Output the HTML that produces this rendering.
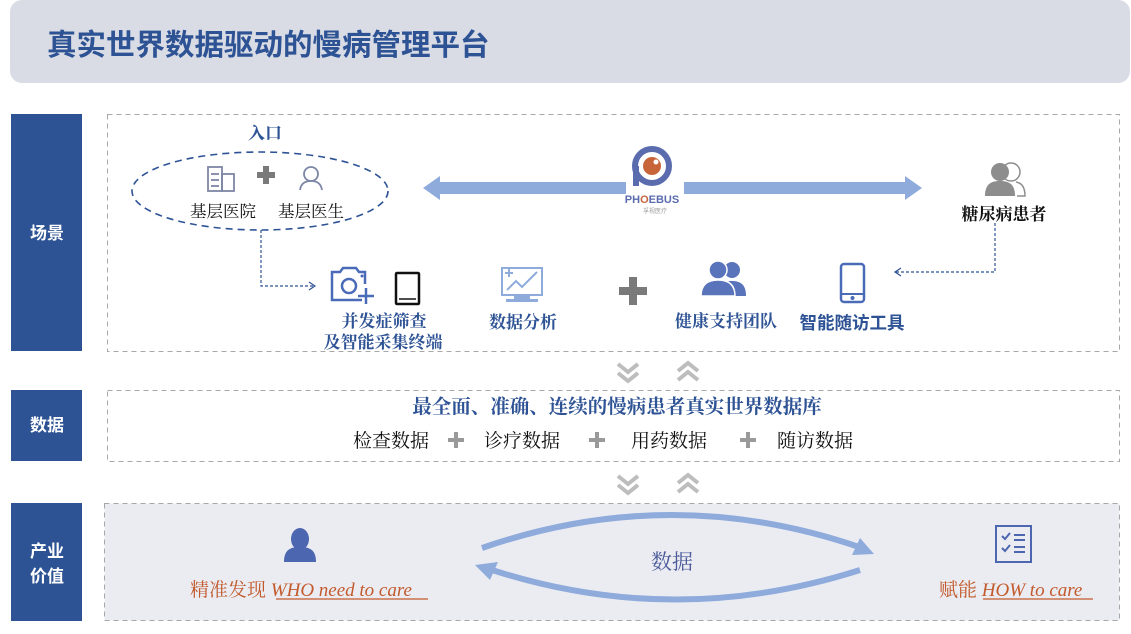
<!DOCTYPE html>
<html><head><meta charset="utf-8"><style>
html,body{margin:0;padding:0;background:#fff;}
svg{display:block;}
.s{font-family:"Liberation Serif","Noto Serif CJK SC",serif;}
.h{font-family:"Liberation Sans","Noto Sans CJK SC",sans-serif;}
</style></head><body>
<svg width="1131" height="634" viewBox="0 0 1131 634" xmlns="http://www.w3.org/2000/svg">
<defs>
<g id="dn"><polyline points="-10,-11 0,-3 10,-11" fill="none" stroke="#bdbdbd" stroke-width="4"/><polyline points="-10,-2 0,6 10,-2" fill="none" stroke="#bdbdbd" stroke-width="4"/></g>
<g id="up"><polyline points="-10,-1 0,-9 10,-1" fill="none" stroke="#bdbdbd" stroke-width="4"/><polyline points="-10,8 0,0 10,8" fill="none" stroke="#bdbdbd" stroke-width="4"/></g>
</defs>
<!-- header -->
<rect x="10" y="0" width="1120" height="83" rx="12" fill="#d9dce4"/>
<text x="47" y="55" class="h" font-size="29.5" font-weight="bold" fill="#2e5395">真实世界数据驱动的慢病管理平台</text>

<!-- left labels -->
<rect x="11" y="114" width="71" height="237" fill="#2d5395"/>
<text x="47" y="239" class="h" font-size="17" font-weight="bold" fill="#fff" text-anchor="middle">场景</text>
<rect x="11" y="390" width="71" height="71" fill="#2d5395"/>
<text x="47" y="431" class="h" font-size="17" font-weight="bold" fill="#fff" text-anchor="middle">数据</text>
<rect x="11" y="503" width="71" height="118" fill="#2d5395"/>
<text x="47" y="557" class="h" font-size="17" font-weight="bold" fill="#fff" text-anchor="middle">产业</text>
<text x="47" y="582" class="h" font-size="17" font-weight="bold" fill="#fff" text-anchor="middle">价值</text>

<!-- dashed boxes -->
<rect x="107.5" y="114.5" width="1012" height="237" fill="#fff" stroke="#a8a8a8" stroke-dasharray="5,4"/>
<rect x="107.5" y="390.5" width="1012" height="71" fill="#fff" stroke="#a8a8a8" stroke-dasharray="5,4"/>
<rect x="104.5" y="503.5" width="1015" height="117" fill="#ebecf2" stroke="#a8a8a8" stroke-dasharray="5,4"/>

<!-- scene -->
<text x="265" y="139" class="s" font-size="17" font-weight="bold" fill="#2e5395" text-anchor="middle">入口</text>
<ellipse cx="260" cy="191" rx="128" ry="39" fill="none" stroke="#2e5395" stroke-width="1.6" stroke-dasharray="7,5"/>
<g stroke="#7d86a6" stroke-width="1.8" fill="none"><rect x="208" y="167" width="14" height="24"/><rect x="222" y="174" width="12" height="17"/><line x1="211" y1="174" x2="219" y2="174"/><line x1="211" y1="180" x2="219" y2="180"/><line x1="211" y1="186" x2="219" y2="186"/></g>
<path d="M257 172h6v-6h6v6h6v6h-6v6h-6v-6h-6z" fill="#7a7a7a"/>
<g stroke="#7d86a6" stroke-width="1.8" fill="none"><circle cx="311" cy="174" r="7"/><path d="M300 190c1-7 6-9 11-9s10 2 11 9"/></g>
<text x="223" y="217" class="s" font-size="16.5" fill="#111" text-anchor="middle">基层医院</text>
<text x="311" y="217" class="s" font-size="16.5" fill="#111" text-anchor="middle">基层医生</text>
<polyline points="261,230 261,286 314,286" fill="none" stroke="#2e5395" stroke-width="1.2" stroke-dasharray="3,2"/>
<polyline points="309,282 315,286 309,290" fill="none" stroke="#2e5395" stroke-width="1.2"/>

<!-- big arrows -->
<rect x="436" y="182" width="190" height="12" fill="#8eabdc"/>
<polygon points="423,188 440,176 440,200" fill="#8eabdc"/>
<rect x="684" y="182" width="222" height="12" fill="#8eabdc"/>
<polygon points="922,188 905,176 905,200" fill="#8eabdc"/>
<!-- logo -->
<circle cx="652" cy="166" r="17" fill="none" stroke="#5a6cae" stroke-width="6"/>
<rect x="633" y="166" width="6" height="20" fill="#5a6cae"/>
<circle cx="652" cy="166" r="9" fill="#c8643a"/>
<circle cx="656" cy="162" r="2.5" fill="#fff"/>
<text x="652" y="203" class="h" font-size="11" font-weight="bold" fill="#5a6cae" text-anchor="middle">PH<tspan fill="#c8643a">O</tspan>EBUS</text>
<text x="655" y="213" class="h" font-size="6" fill="#999" text-anchor="middle">孚视医疗</text>
<!-- patient -->
<g fill="#8d8d8d"><circle cx="1011" cy="172" r="9" fill="#fff" stroke="#8d8d8d" stroke-width="1.5"/><circle cx="1000" cy="172" r="9"/><path d="M985 196c0-12 6-15 15-15s15 3 15 15z"/><path d="M1017 196h8c0-10-4-13-9-14" fill="none" stroke="#8d8d8d" stroke-width="1.5"/></g>
<text x="1004" y="220" class="s" font-size="17" font-weight="bold" fill="#111" text-anchor="middle">糖尿病患者</text>
<polyline points="995,223 995,272 896,272" fill="none" stroke="#2e5395" stroke-width="1.2" stroke-dasharray="3,2"/>
<polyline points="901,268 895,272 901,276" fill="none" stroke="#2e5395" stroke-width="1.2"/>

<!-- camera -->
<g stroke="#4a6bb8" stroke-width="2.5" fill="none"><path d="M362 300h-30v-28h8l3-4h13l3 4h6v12"/><circle cx="349" cy="286" r="7"/><path d="M366 288v16M358 296h16"/></g>
<circle cx="362" cy="276" r="1.5" fill="#4a6bb8"/>
<rect x="396" y="273" width="23" height="31" rx="1" fill="none" stroke="#111" stroke-width="2.5"/>
<line x1="399" y1="299" x2="416" y2="299" stroke="#111" stroke-width="1.5"/>
<text x="384" y="327" class="s" font-size="17" font-weight="bold" fill="#2e5395" text-anchor="middle">并发症筛查</text>
<text x="383" y="348" class="s" font-size="17" font-weight="bold" fill="#2e5395" text-anchor="middle">及智能采集终端</text>
<!-- monitor -->
<g stroke="#8eabdc" stroke-width="2" fill="none"><rect x="502" y="268" width="40" height="27"/><polyline points="507,290 516,281 522,287 537,272"/><path d="M509 269v8M505 273h8"/></g>
<rect x="514" y="296" width="16" height="3" fill="#8eabdc"/><rect x="506" y="299" width="32" height="3" fill="#8eabdc"/>
<text x="523" y="328" class="s" font-size="17" font-weight="bold" fill="#2e5395" text-anchor="middle">数据分析</text>
<path d="M619 287h10v-10h8v10h10v8h-10v10h-8v-10h-10z" fill="#7a7a7a"/>
<!-- team -->
<g fill="#5a74bc"><circle cx="732" cy="270" r="8"/><path d="M718 296c0-10 4-15 14-15s14 5 14 15z"/><circle cx="718" cy="270" r="9" stroke="#fff" stroke-width="1.5"/><path d="M701 296c0-11 6-16 17-16s17 5 17 16z" stroke="#fff" stroke-width="1.5"/></g>
<text x="726" y="327" class="s" font-size="17" font-weight="bold" fill="#2e5395" text-anchor="middle">健康支持团队</text>
<!-- phone -->
<rect x="841" y="264" width="23" height="38" rx="3" fill="none" stroke="#4a6bb8" stroke-width="2.5"/>
<line x1="841" y1="294" x2="864" y2="294" stroke="#4a6bb8" stroke-width="2"/>
<circle cx="852.5" cy="298" r="2" fill="#4a6bb8"/>
<text x="852" y="329" class="h" font-size="17.5" font-weight="bold" fill="#2e5395" text-anchor="middle">智能随访工具</text>

<!-- chevrons -->
<use href="#dn" x="628" y="375"/><use href="#up" x="688" y="372"/>
<use href="#dn" x="628" y="487"/><use href="#up" x="688" y="484"/>

<!-- data -->
<text x="617" y="413" class="s" font-size="19.5" font-weight="bold" fill="#2e5395" text-anchor="middle">最全面、准确、连续的慢病患者真实世界数据库</text>
<g class="s" font-size="19" fill="#111">
<text x="353" y="447">检查数据</text><text x="484" y="447">诊疗数据</text><text x="631" y="447">用药数据</text><text x="777" y="447">随访数据</text></g>
<g fill="#9a9a9a"><path d="M448 438h6v-6h4v6h6v4h-6v6h-4v-6h-6z"/><path d="M589 438h6v-6h4v6h6v4h-6v6h-4v-6h-6z"/><path d="M740 438h6v-6h4v6h6v4h-6v6h-4v-6h-6z"/></g>

<!-- industry -->
<g fill="#4d66b0"><ellipse cx="300" cy="539" rx="9" ry="11"/><path d="M284 562c0-12 6-15 16-15s16 3 16 15z"/></g>
<text x="190" y="596" class="s" font-size="19" fill="#c25a2c">精准发现 <tspan font-style="italic">WHO need to care</tspan></text>
<line x1="276" y1="599" x2="428" y2="599" stroke="#c25a2c" stroke-width="1.2"/>
<path d="M482 548 Q672 482 862 548" fill="none" stroke="#8eabdc" stroke-width="6"/>
<polygon points="874,554 852,555 860,538" fill="#8eabdc"/>
<path d="M860 570 Q672 630 486 568" fill="none" stroke="#8eabdc" stroke-width="6"/>
<polygon points="475,565 498,562 490,580" fill="#8eabdc"/>
<text x="672" y="569" class="s" font-size="21" fill="#4a5a9a" text-anchor="middle">数据</text>
<g stroke="#4d66b0" stroke-width="2" fill="none"><rect x="996" y="526" width="35" height="36"/><polyline points="1002,536 1005,539 1010,533"/><polyline points="1002,548 1005,551 1010,545"/><path d="M1014 535h11M1014 540h11M1014 547h11M1014 552h11"/></g>
<text x="939" y="596" class="s" font-size="19" fill="#c25a2c">赋能 <tspan font-style="italic">HOW to care</tspan></text>
<line x1="983" y1="599" x2="1093" y2="599" stroke="#c25a2c" stroke-width="1.2"/>
</svg>
</body></html>
